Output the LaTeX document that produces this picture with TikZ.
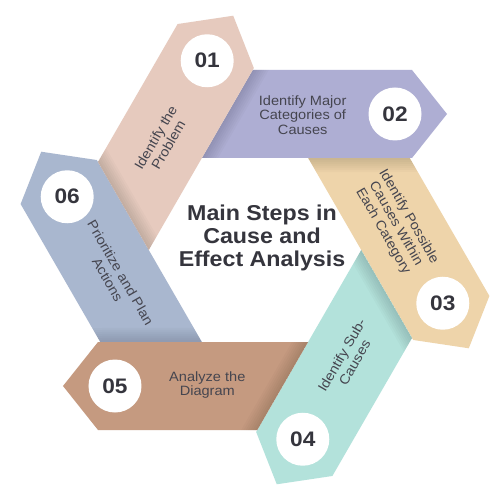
\documentclass[tikz,border=0pt]{standalone}
\usepackage{fontspec}
\setmainfont{Liberation Sans}[FakeStretch=1.08]
\definecolor{cpink}{HTML}{E6CABE}
\definecolor{cpurple}{HTML}{AEAED3}
\definecolor{ctan}{HTML}{EED4AA}
\definecolor{cmint}{HTML}{B3E2DB}
\definecolor{cbrown}{HTML}{C59A80}
\definecolor{cblue}{HTML}{A9B7CF}
\definecolor{numcol}{HTML}{35353D}
\definecolor{txtcol}{HTML}{45454F}
\tikzset{
  numcirc/.style={circle, fill=white, minimum size=53pt, inner sep=0pt,
    font=\fontsize{21}{21}\selectfont\bfseries, text=numcol},
  steptext/.style={align=center, font=\fontsize{13.5}{14.7}\selectfont,
    text=txtcol, inner sep=0pt},
  titletext/.style={align=center, font=\fontsize{21.5}{23.4}\selectfont\bfseries,
    text=numcol, inner sep=0pt},
}
\newcommand\stepshape[6]{%
  \begin{scope}[rotate=#1]
    \fill[#2] (-2.3,180) -- (157,180) -- (192,136) -- (157,92) -- (-53.1,92) -- cycle;
    \begin{scope}
      \clip (-2.3,180) -- (157,180) -- (192,136) -- (157,92) -- (-53.1,92) -- cycle;
      \foreach \d in {2,4,...,14}
        \fill[black, opacity=0.018] (-83.1,40) -- (27.7,232) -- ++({0.866*\d},{-0.5*\d}) -- ++(-110.8,-192) -- cycle;
    \end{scope}
    \node[numcirc] (n#6) at (140,136) {#3};
    \node[steptext, rotate=#5] (t#6) at (47.7,135) {#4};
  \end{scope}}
\begin{document}
\begin{tikzpicture}[x=1pt,y=1pt]
  \useasboundingbox[fill=white] (-255,-247) rectangle (247,250);
  \stepshape{0}{cpurple}{02}{Identify Major\\Categories of\\Causes}{0}{b}
  \stepshape{-60}{ctan}{03}{Identify Possible\\Causes Within\\Each Category}{-60}{c}
  \stepshape{-120}{cmint}{04}{Identify Sub-\\Causes}{60}{d}
  \stepshape{-180}{cbrown}{05}{Analyze the\\Diagram}{0}{e}
  \stepshape{-240}{cblue}{06}{Prioritize and Plan\\Actions}{-60}{f}
  \stepshape{-300}{cpink}{01}{Identify the\\Problem}{60}{a}
  \node[titletext] (title) at (7,12) {Main Steps in\\Cause and\\Effect Analysis};
\end{tikzpicture}
\end{document}
